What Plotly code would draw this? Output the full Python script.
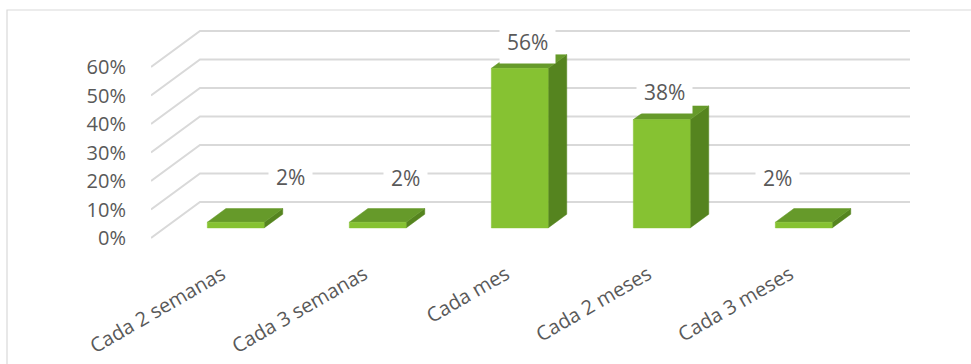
import plotly.graph_objects as go

# Survey answers: how often
categories = ["Cada 2 semanas", "Cada 3 semanas", "Cada mes", "Cada 2 meses", "Cada 3 meses"]
values = [2, 2, 56, 38, 2]          # percent
y_ticks = [0, 10, 20, 30, 40, 50, 60]

# --- pseudo-3D geometry (in axis units) ---
DEPTH_X, DEPTH_Y = 0.345, 12.63     # full floor depth: shift right / up
F_FRONT, F_BACK = 0.28, 0.66        # bar front/back planes as fraction of depth
HALF_W = 0.2
FLOOR_L, FLOOR_R = -0.5, 4.5

C_FRONT = "#86C232"
C_TOP = "#669A2A"
C_SIDE = "#55841F"
C_GRID = "#D9D9D9"
C_TEXT = "#595959"
FONT = "Open Sans"

fig = go.Figure()

# walls: diagonal lines on the left wall + horizontal lines on the back wall
gx, gy = [], []
for t in y_ticks:
    gx += [FLOOR_L, FLOOR_L + DEPTH_X, FLOOR_R + DEPTH_X, None]
    gy += [t, t + DEPTH_Y, t + DEPTH_Y, None]
fig.add_trace(go.Scatter(x=gx, y=gy, mode="lines",
                         line=dict(color=C_GRID, width=2),
                         hoverinfo="skip", showlegend=False))


def poly(xs, ys, color):
    fig.add_trace(go.Scatter(x=xs + [xs[0]], y=ys + [ys[0]], mode="lines",
                             fill="toself", fillcolor=color,
                             line=dict(color=color, width=0.5),
                             hoverinfo="skip", showlegend=False))


ox1, oy1 = F_FRONT * DEPTH_X, F_FRONT * DEPTH_Y
ox2, oy2 = F_BACK * DEPTH_X, F_BACK * DEPTH_Y
for i, v in enumerate(values):
    xl, xr = i - HALF_W, i + HALF_W
    # side face
    poly([xr + ox1, xr + ox2, xr + ox2, xr + ox1],
         [oy1, oy2, v + oy2, v + oy1], C_SIDE)
    # top face
    poly([xl + ox1, xr + ox1, xr + ox2, xl + ox2],
         [v + oy1, v + oy1, v + oy2, v + oy2], C_TOP)
    # front face
    poly([xl + ox1, xr + ox1, xr + ox1, xl + ox1],
         [oy1, oy1, v + oy1, v + oy1], C_FRONT)

# value labels
label_dx = [68, 41, 21, 16, -13]
label_dy = [55, 54, 36, 38, 54]
for i, v in enumerate(values):
    fig.add_annotation(x=i, y=v, xref="x", yref="y", text=f"{v}%",
                       showarrow=False, xshift=label_dx[i], yshift=label_dy[i],
                       bgcolor="white", borderpad=7,
                       font=dict(family=FONT, size=21, color=C_TEXT))

# outer chart border
fig.add_shape(type="rect", xref="paper", yref="paper",
              x0=-144 / 809, x1=1.02, y0=-0.6, y1=1.0,
              line=dict(color=C_GRID, width=1.2), layer="below")

fig.update_layout(
    width=971, height=364,
    margin=dict(l=151, r=11, t=10, b=114, autoexpand=False),
    paper_bgcolor="white", plot_bgcolor="white",
    showlegend=False,
    xaxis=dict(range=[-0.5, 5.197], tickmode="array",
               tickvals=list(range(len(categories))), ticktext=categories,
               tickangle=-30, showgrid=False, zeroline=False, showline=False,
               automargin=False,
               ticks="outside", ticklen=4, tickcolor="rgba(0,0,0,0)",
               tickfont=dict(family=FONT, size=20, color=C_TEXT)),
    yaxis=dict(range=[-4.21, 80], tickmode="array", tickvals=y_ticks,
               ticktext=[f"{t}%" for t in y_ticks], automargin=False,
               showgrid=False, zeroline=False, showline=False,
               ticks="outside", ticklen=20, tickcolor="rgba(0,0,0,0)",
               tickfont=dict(family=FONT, size=20, color=C_TEXT)),
)

fig.write_html("out.html")
